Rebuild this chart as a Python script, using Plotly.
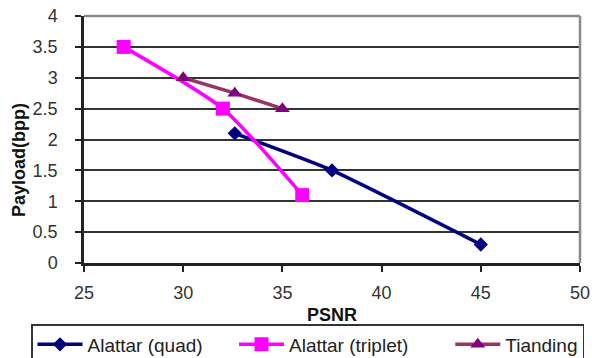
import plotly.graph_objects as go

quad_x = [32.6, 37.5, 45]
quad_y = [2.1, 1.5, 0.3]
trip_x = [27, 32, 36]
trip_y = [3.5, 2.5, 1.1]
tian_x = [30, 32.6, 35]
tian_y = [3.0, 2.75, 2.5]
names = ["Alattar (quad)", "Alattar (triplet)", "Tianding"]

FONT = "Liberation Sans, Arial, sans-serif"
NB = "\u00a0"
# trailing no-break spaces only widen legend entries to match the reference spacing
pad = [NB * 5, NB * 7, ""]

fig = go.Figure()
fig.add_trace(go.Scatter(x=quad_x, y=quad_y, name=names[0] + pad[0], mode="lines+markers",
                         line=dict(color="#000080", width=3.5, shape="spline", smoothing=0.5),
                         marker=dict(symbol="diamond", size=11, color="#000080")))
fig.add_trace(go.Scatter(x=trip_x, y=trip_y, name=names[1] + pad[1], mode="lines+markers",
                         line=dict(color="#FF00FF", width=3.5, shape="spline", smoothing=0.6),
                         marker=dict(symbol="square", size=14, color="#FF00FF")))
fig.add_trace(go.Scatter(x=tian_x, y=tian_y, name=names[2] + pad[2], mode="lines+markers",
                         line=dict(color="#993366", width=3.5),
                         marker=dict(symbol="triangle-up", size=13, color="#800080")))

fig.update_layout(
    width=592, height=358,
    margin=dict(l=84, r=12, t=16, b=95, autoexpand=False),
    paper_bgcolor="white", plot_bgcolor="white",
    font=dict(family=FONT, size=18, color="#333333"),
    showlegend=True,
    legend=dict(orientation="h",
                x=(31 - 84) / 496, xanchor="left", y=(263 - 324) / 247, yanchor="top",
                bordercolor="#333333", borderwidth=1.5, bgcolor="white",
                font=dict(family=FONT, size=19, color="#222222"),
                itemwidth=45,
                traceorder="normal"),
    xaxis=dict(range=[25, 50], dtick=5, tick0=25, showgrid=False, zeroline=False,
               showline=True, linecolor="#222222", linewidth=2.5, mirror=False,
               ticks="outside", ticklen=6, tickwidth=1.5, tickcolor="#222222",
               tickfont=dict(size=18, color="#333333"), ticklabelstandoff=6),
    yaxis=dict(range=[0, 4], dtick=0.5, tick0=0, showgrid=True, gridcolor="#333333",
               gridwidth=2, zeroline=False,
               showline=True, linecolor="#222222", linewidth=2.5,
               ticks="outside", ticklen=6, tickwidth=1.5, tickcolor="#222222",
               tickfont=dict(size=18, color="#333333"), ticklabelstandoff=14),
)

# right and top plot border in gray
fig.add_shape(type="line", xref="paper", yref="paper", x0=0, x1=1, y0=1, y1=1,
              line=dict(color="#8a8a8a", width=2.5))
fig.add_shape(type="line", xref="paper", yref="paper", x0=1, x1=1, y0=0, y1=1,
              line=dict(color="#8a8a8a", width=2.5))

fig.add_annotation(text="<b>PSNR</b>", xref="paper", yref="paper", x=0.5, y=(263 - 315) / 247,
                   showarrow=False, font=dict(family=FONT, size=18, color="#111111"),
                   xanchor="center", yanchor="middle")
fig.add_annotation(text="<b>Payload(bpp)</b>", xref="paper", yref="paper", x=(19 - 84) / 496,
                   y=(263 - 160) / 247,
                   textangle=-90, showarrow=False,
                   font=dict(family=FONT, size=18, color="#111111"),
                   xanchor="center", yanchor="middle")

fig.write_html("out.html")
